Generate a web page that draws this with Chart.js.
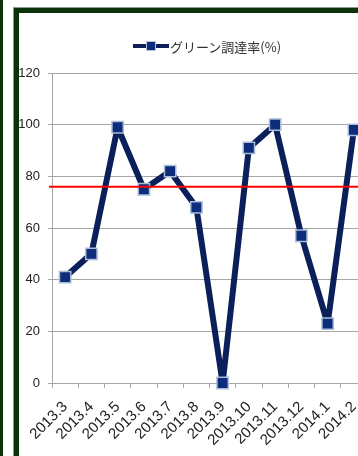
<!DOCTYPE html>
<html>
<head>
<meta charset="utf-8">
<script src="https://cdn.jsdelivr.net/npm/chart.js@4"></script>
<style>
  html, body { margin: 0; padding: 0; background: #fff; }
  body { width: 358px; height: 456px; overflow: hidden; position: relative; }
  .side-bar { position: absolute; left: 0; top: 0; width: 3px; height: 456px; background: #0a330a; }
  .frame { position: absolute; left: 14px; top: 8px; width: 420px; height: 470px;
           border: 5px solid #0a330a; box-shadow: 0 0 0 1px #8c9c8c; box-sizing: border-box; }
  #chartBox { position: absolute; left: 0; top: 0; width: 380px; height: 456px; }
  .legend { position: absolute; left: 133px; top: 38px; height: 16px; display: flex; align-items: center;
            font: 13px "Noto Sans CJK JP", sans-serif; color: #333; white-space: nowrap; }
  .legend .mark { position: relative; width: 36px; height: 4px; background: #0b1f5a; margin-right: 1px; }
  .legend .mark span { position: absolute; left: 13px; top: -3px; width: 10px; height: 10px;
                       background: #0d2c7c; border: 1px solid #b4c6e0; box-sizing: border-box; }
</style>
</head>
<body>
<div class="side-bar"></div>
<div class="frame"></div>
<div id="chartBox"><canvas id="chart" width="380" height="456"></canvas></div>
<div class="legend"><div class="mark"><span></span></div>グリーン調達率(%)</div>
<script>
// months on the x axis
var months = ['2013.3', '2013.4', '2013.5', '2013.6', '2013.7', '2013.8',
              '2013.9', '2013.10', '2013.11', '2013.12', '2014.1', '2014.2'];
// green procurement rate (%)
var greenRate = [41, 50, 99, 75, 82, 68, 0, 91, 100, 57, 23, 98];
// red target line
var targetRate = 76;
var yTicks = [0, 20, 40, 60, 80, 100, 120];

var yFont = { family: '"Liberation Sans Narrow", "Liberation Sans", sans-serif', size: 13 };
var xFont = { family: '"Liberation Sans Narrow", "Liberation Sans", sans-serif', size: 15 };

// red horizontal line drawn through the y scale
var targetLine = {
  id: 'targetLine',
  afterDatasetsDraw: function (chart) {
    var y = chart.scales.y.getPixelForValue(targetRate);
    var ctx = chart.ctx;
    ctx.save();
    ctx.strokeStyle = '#ff0000';
    ctx.lineWidth = 2;
    ctx.beginPath();
    ctx.moveTo(chart.chartArea.left - 3, y);
    ctx.lineTo(chart.width, y);
    ctx.stroke();
    ctx.restore();
  }
};

var ctx = document.getElementById('chart');
var myChart = new Chart(ctx, {
  type: 'line',
  data: {
    labels: months,
    datasets: [{
      label: 'グリーン調達率(%)',
      data: greenRate,
      borderColor: '#0b1f5a',
      borderWidth: 6,
      borderJoinStyle: 'round',
      pointStyle: 'rect',
      pointRadius: 8,
      pointBackgroundColor: '#0d2c7c',
      pointBorderColor: '#a9bcd8',
      pointBorderWidth: 1.5,
      tension: 0,
      clip: false
    }]
  },
  options: {
    responsive: false,
    animation: false,
    devicePixelRatio: 1,
    layout: { padding: { left: 0, top: 73, right: 13, bottom: 0 } },
    plugins: { legend: { display: false }, tooltip: { enabled: false } },
    scales: {
      x: {
        type: 'category',
        offset: true,
        grid: { offset: true, drawOnChartArea: false, color: '#a6a6a6', tickLength: 5 },
        border: { color: '#a6a6a6' },
        ticks: { minRotation: 45, maxRotation: 45, autoSkip: false, color: '#222', font: xFont, padding: 10 },
        afterFit: function (scale) { scale.height = 73; }
      },
      y: {
        min: 0,
        max: 120,
        afterBuildTicks: function (scale) {
          scale.ticks = yTicks.map(function (v) { return { value: v }; });
        },
        grid: { color: '#a6a6a6', tickLength: 4 },
        border: { color: '#a6a6a6' },
        ticks: { color: '#222', font: yFont, padding: 8 },
        afterFit: function (scale) { scale.width = 52; }
      }
    }
  },
  plugins: [targetLine]
});
</script>
</body>
</html>
